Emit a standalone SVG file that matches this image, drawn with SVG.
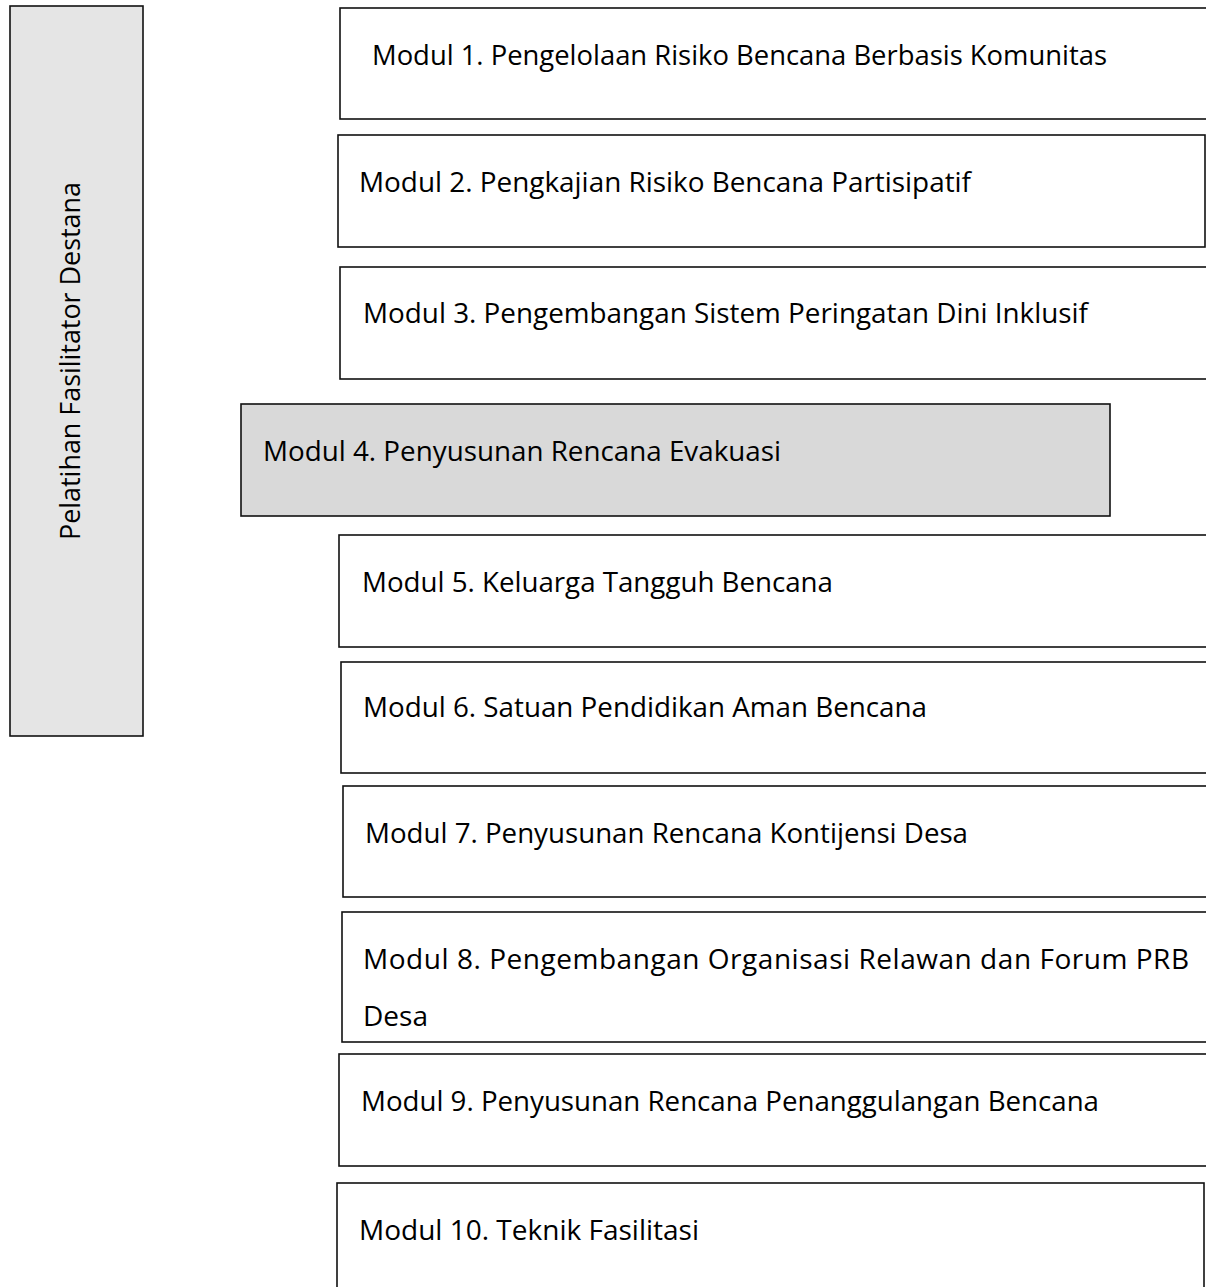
<svg xmlns="http://www.w3.org/2000/svg" width="1206" height="1287" viewBox="0 0 1206 1287">
<style>
.box{fill:#ffffff;stroke:#111;stroke-width:1.6}
.grey{fill:#d9d9d9;stroke:#111;stroke-width:1.6}
.side{fill:#e5e5e5;stroke:#111;stroke-width:1.6}
text{font-family:"Open Sans","Noto Sans","Liberation Sans",sans-serif;font-size:28px;fill:#000}
</style>
<rect width="1206" height="1287" fill="#ffffff"/>
<g id="side">
<rect class="side" x="10" y="6" width="133" height="730"/>
<text transform="translate(80,540) rotate(-90)" textLength="358" lengthAdjust="spacingAndGlyphs">Pelatihan Fasilitator Destana</text>
</g>
<g id="m1"><rect class="box" x="340" y="8" width="880" height="111"/><text x="372" y="65" textLength="735" lengthAdjust="spacingAndGlyphs">Modul 1. Pengelolaan Risiko Bencana Berbasis Komunitas</text></g>
<g id="m2"><rect class="box" x="338" y="135" width="867" height="112"/><text x="359" y="192" textLength="612" lengthAdjust="spacingAndGlyphs">Modul 2. Pengkajian Risiko Bencana Partisipatif</text></g>
<g id="m3"><rect class="box" x="340" y="267" width="880" height="112"/><text x="363" y="323" textLength="725" lengthAdjust="spacingAndGlyphs">Modul 3. Pengembangan Sistem Peringatan Dini Inklusif</text></g>
<g id="m4"><rect class="grey" x="241" y="404" width="869" height="112"/><text x="263" y="461" textLength="518" lengthAdjust="spacingAndGlyphs">Modul 4. Penyusunan Rencana Evakuasi</text></g>
<g id="m5"><rect class="box" x="339" y="535" width="880" height="112"/><text x="362" y="592" textLength="471" lengthAdjust="spacingAndGlyphs">Modul 5. Keluarga Tangguh Bencana</text></g>
<g id="m6"><rect class="box" x="341" y="662" width="880" height="111"/><text x="363" y="717" textLength="564" lengthAdjust="spacingAndGlyphs">Modul 6. Satuan Pendidikan Aman Bencana</text></g>
<g id="m7"><rect class="box" x="343" y="786" width="880" height="111"/><text x="365" y="843" textLength="603" lengthAdjust="spacingAndGlyphs">Modul 7. Penyusunan Rencana Kontijensi Desa</text></g>
<g id="m8"><rect class="box" x="342" y="912" width="880" height="130"/><text x="363" y="969" textLength="826" lengthAdjust="spacing">Modul 8. Pengembangan Organisasi Relawan dan Forum PRB</text><text x="363" y="1026">Desa</text></g>
<g id="m9"><rect class="box" x="339" y="1054" width="880" height="112"/><text x="361" y="1111" textLength="738" lengthAdjust="spacingAndGlyphs">Modul 9. Penyusunan Rencana Penanggulangan Bencana</text></g>
<g id="m10"><rect class="box" x="337" y="1183" width="867" height="130"/><text x="359" y="1240" textLength="340" lengthAdjust="spacingAndGlyphs">Modul 10. Teknik Fasilitasi</text></g>
<g id="connectors"></g>
</svg>
